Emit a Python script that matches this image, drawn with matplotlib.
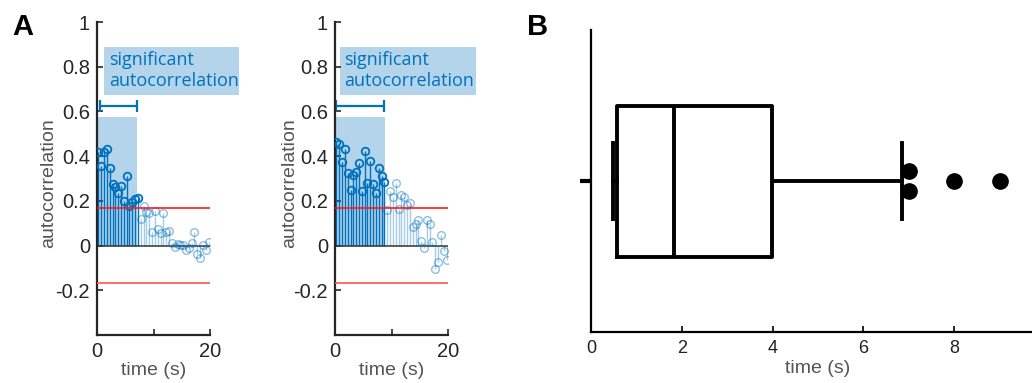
import numpy as np
import matplotlib.pyplot as plt
from matplotlib.patches import Rectangle

plt.rcParams['font.family'] = ['Liberation Sans', 'DejaVu Sans']

# autocorrelation at each lag (s), two example cells
lags = np.arange(1, 41) * 0.5 - 0.25
acf_a = [0.417, 0.357, 0.418, 0.434, 0.347, 0.275, 0.262, 0.235, 0.265, 0.198,
         0.311, 0.179, 0.193, 0.208, 0.211,
         0.121, 0.179, 0.152, 0.146, 0.061, 0.156, 0.074, 0.054, 0.146, 0.061,
         0.065, 0.012, -0.006, 0.009, 0.004, 0.001, -0.018, -0.012, 0.010, 0.059,
         -0.036, -0.055, 0.001, -0.022, 0.015]
acf_b = [0.462, 0.453, 0.373, 0.434, 0.324, 0.248, 0.315, 0.328, 0.370, 0.243,
         0.422, 0.282, 0.377, 0.276, 0.233, 0.346, 0.312, 0.285,
         0.160, 0.243, 0.216, 0.282, 0.164, 0.227, 0.219, 0.183, 0.189, 0.082,
         0.097, 0.116, 0.019, -0.010, 0.116, 0.097, 0.015, -0.104, -0.072, 0.048,
         -0.026, -0.064]
n_sig = [15, 18]          # number of significant lags
sig_end = [7.0, 8.8]      # end of significant window (s)
bracket = [(0.5, 7.0), (0.2, 8.6)]
conf = 0.167              # confidence bound

# panel B: duration of significant autocorrelation (s)
box_q1, box_med, box_q3 = 0.57, 1.83, 3.99
whis_lo, whis_hi = 0.49, 6.86
outlier_x = [7.0, 7.0, 8.0, 9.0]
outlier_y = [1.063, 0.937, 1.0, 1.0]

blue = '#0072BD'
shade = '#b3d4ea'
axcol = '#262626'

fig = plt.figure(figsize=(10.32, 3.83), dpi=100)

lefts = [97 / 1032, 335 / 1032]
label_x = [-0.35, -0.325]
for k, acf in enumerate([acf_a, acf_b]):
    ax = fig.add_axes([lefts[k], 48 / 383, 113 / 1032, 313 / 383])
    acf = np.array(acf)
    ax.add_patch(Rectangle((0, 0), sig_end[k], 0.575, facecolor=shade,
                           edgecolor='none', zorder=0))
    ax.add_patch(Rectangle((1.2 if k == 0 else 0.9, 0.674), 24, 0.216,
                           facecolor=shade, edgecolor='none', clip_on=False,
                           zorder=0))
    ax.text(2.2 if k == 0 else 1.6, 0.782, 'significant\nautocorrelation',
            color=blue, fontsize=13, family=['Open Sans', 'DejaVu Sans'],
            va='center', ha='left', linespacing=1.2, clip_on=False)
    b0, b1 = bracket[k]
    ax.errorbar((b0 + b1) / 2, 0.625, xerr=(b1 - b0) / 2, color=blue,
                lw=1.6, capsize=4, capthick=1.6)
    s = n_sig[k]
    ax.vlines(lags[:s], 0, acf[:s], color=blue, lw=1.0, zorder=2)
    ax.plot(lags[:s], acf[:s], 'o', mfc='none', mec=blue, ms=5.5, mew=1.3,
            zorder=3)
    ax.vlines(lags[s:], 0, acf[s:], color=blue, lw=1.0, alpha=0.35, zorder=2)
    ax.plot(lags[s:], acf[s:], 'o', mfc='none', mec=blue, ms=5.5, mew=1.0,
            alpha=0.45, zorder=3)
    ax.plot([0, 20], [0, 0], color='#333333', lw=1.1, zorder=2.5)
    ax.plot([0, 20], [conf, conf], color='#ff1a1a', lw=1.2, zorder=4)
    ax.plot([0, 20], [-conf, -conf], color='#ff5555', lw=1.2, zorder=4)

    ax.set_xlim(0, 20)
    ax.set_ylim(-0.4, 1)
    ax.set_xticks([0, 10, 20])
    ax.set_xticklabels(['0', '', '20'])
    ax.set_yticks([-0.2, 0, 0.2, 0.4, 0.6, 0.8, 1])
    ax.set_yticklabels(['-0.2', '0', '0.2', '0.4', '0.6', '0.8', '1'])
    for side in ['top', 'right']:
        ax.spines[side].set_visible(False)
    for side in ['left', 'bottom']:
        ax.spines[side].set_linewidth(1.6)
        ax.spines[side].set_color(axcol)
    ax.tick_params(direction='in', length=4, width=1.2, colors=axcol,
                   labelsize=14.5, pad=5)
    ax.set_xlabel('time (s)', fontsize=14, color='#555555', labelpad=1)
    ax.set_ylabel('autocorrelation', fontsize=14, color='#555555')
    ax.yaxis.set_label_coords(label_x[k], 0.486)

# panel B
ax3 = fig.add_axes([591 / 1032, 51 / 383, 454 / 1032, 302 / 383])
stats = [dict(q1=box_q1, med=box_med, q3=box_q3, whislo=whis_lo,
              whishi=whis_hi, fliers=[])]
lw = 2.8
ax3.bxp(stats, positions=[1], widths=1, capwidths=0.5, showfliers=False,
        orientation='horizontal',
        boxprops=dict(color='black', lw=lw),
        medianprops=dict(color='black', lw=lw),
        whiskerprops=dict(color='black', lw=lw),
        capprops=dict(color='black', lw=lw))
ax3.plot(outlier_x, outlier_y, 'o', color='black', ms=11, zorder=1)
ax3.set_xlim(0, 10)
ax3.set_ylim(0, 2)
ax3.set_xticks([0, 2, 4, 6, 8])
ax3.set_yticks([1])
ax3.set_yticklabels([''])
for side in ['top', 'right']:
    ax3.spines[side].set_visible(False)
for side in ['left', 'bottom']:
    ax3.spines[side].set_linewidth(1.6)
ax3.tick_params(axis='x', direction='in', length=4, width=1.4, labelsize=13,
                pad=6, colors='#222222')
ax3.tick_params(axis='y', direction='out', length=8, width=3)
ax3.set_xlabel('time (s)', fontsize=14, color='#555555', labelpad=2)

fig.text(12 / 1032, 1 - 35 / 383, 'A', fontsize=21, fontweight='bold')
fig.text(527 / 1032, 1 - 35 / 383, 'B', fontsize=21, fontweight='bold')

fig.savefig('out.png', dpi=100)
